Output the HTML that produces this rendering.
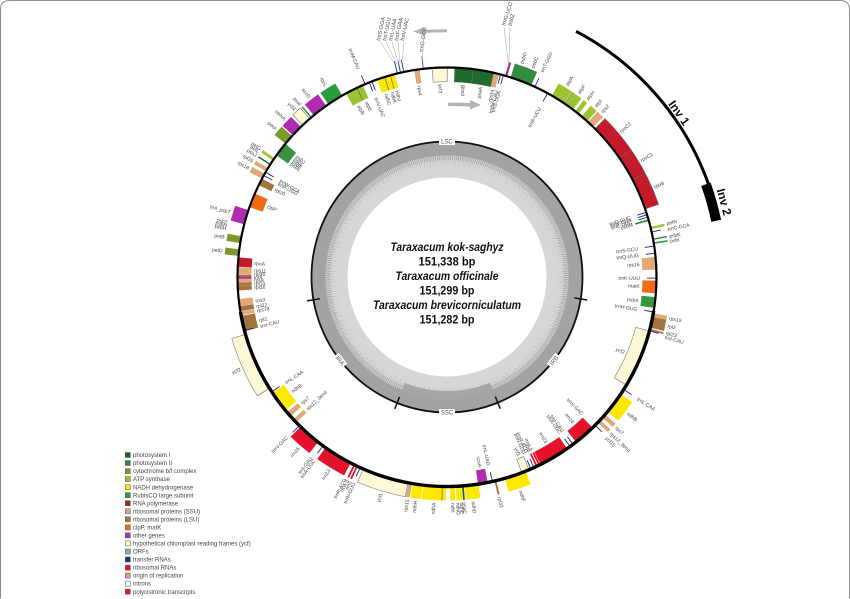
<!DOCTYPE html>
<html><head><meta charset="utf-8"><style>
html,body{margin:0;padding:0;background:#fff;overflow:hidden;width:850px;height:599px;}
svg{display:block;}
text{font-family:"Liberation Sans",Arial,sans-serif;}
</style></head><body>
<svg width="850" height="599" viewBox="0 0 850 599" xmlns="http://www.w3.org/2000/svg" overflow="hidden">
<path d="M0.5,598.5 L0.5,9.5 Q0.5,0.5 9.5,0.5 L840.5,0.5 Q849.5,0.5 849.5,9.5 L849.5,598.5" fill="none" stroke="#8a8a8a" stroke-width="1"/>

<!-- gray arrows -->
<path d="M447,29.3 L425,29.8 L425,27 L413,31.5 L425,35.5 L425,32.8 L447,32.3 Z" fill="#b4b4b4"/>
<path d="M448,102.5 L470,103 L470,100 L481,105 L470,109.5 L470,106.5 L448,106 Z" fill="#b4b4b4"/>

<!-- Inv arcs -->
<path d="M576.0,31.3 A277.5,277.5 0 0 1 708.7,184.8" fill="none" stroke="#000" stroke-width="3"/>
<path d="M705.9,184.3 A275,275 0 0 1 716.2,220.8" fill="none" stroke="#000" stroke-width="10"/>

<g transform="translate(447,277)">
 <!-- inner GC ring -->
 <circle r="117.5" fill="none" stroke="#d6d6d6" stroke-width="36"/>
 <circle r="128.5" fill="none" stroke="#a3a3a3" stroke-width="14"/>
 <circle r="119.5" fill="none" stroke="#a9a9a9" stroke-width="5" stroke-dasharray="1 0.9"/>
 <circle r="116" fill="none" stroke="#b3b3b3" stroke-width="3" stroke-dasharray="0.6 2.2"/>
 <circle r="113" fill="none" stroke="#bdbdbd" stroke-width="3" stroke-dasharray="0.5 4.5"/>
 <circle r="118" fill="none" stroke="#a6a6a6" stroke-width="8" transform="rotate(68)" stroke-dasharray="90 3000"/>
 <circle r="135.5" fill="none" stroke="#111" stroke-width="1.8"/>
 <g stroke="#111" stroke-width="1.5">
  <line y1="-129" y2="-142" transform="rotate(99.3)"/>
  <line y1="-129" y2="-142" transform="rotate(158)"/>
  <line y1="-129" y2="-142" transform="rotate(201.6)"/>
  <line y1="-129" y2="-142" transform="rotate(260.3)"/>
 </g>
 <g font-size="6" fill="#555" text-anchor="middle">
  <rect x="-8" y="-139" width="16" height="7" fill="#fff"/>
  <text x="0" y="-133.3">LSC</text>
  <g transform="translate(0,135.5)"><rect x="-8" y="-3.5" width="16" height="7" fill="#fff"/><text x="0" y="2.2">SSC</text></g>
  <g transform="rotate(232) translate(0,-135.5) rotate(180)"><rect x="-7" y="-3.5" width="14" height="7" fill="#fff"/><text x="0" y="2.2">IRA</text></g>
  <g transform="rotate(128) translate(0,-135.5) rotate(180)"><rect x="-7" y="-3.5" width="14" height="7" fill="#fff"/><text x="0" y="2.2">IRB</text></g>
 </g>

 <!-- center text -->
 <g fill="#111" font-weight="bold" text-anchor="middle">
  <text x="0" y="-26" font-size="11.5" font-style="italic" textLength="113" lengthAdjust="spacingAndGlyphs">Taraxacum kok-saghyz</text>
  <text x="0" y="-11.3" font-size="11.5" textLength="57" lengthAdjust="spacingAndGlyphs">151,338 bp</text>
  <text x="0" y="3.2" font-size="11.5" font-style="italic" textLength="103" lengthAdjust="spacingAndGlyphs">Taraxacum officinale</text>
  <text x="0" y="17.7" font-size="11.5" textLength="55" lengthAdjust="spacingAndGlyphs">151,299 bp</text>
  <text x="0" y="32.2" font-size="11.5" font-style="italic" textLength="148" lengthAdjust="spacingAndGlyphs">Taraxacum brevicorniculatum</text>
  <text x="0" y="46.7" font-size="11.5" textLength="55" lengthAdjust="spacingAndGlyphs">151,282 bp</text>
 </g>

 <!-- outlines for light boxes -->
 <g fill="none" stroke="#6a6a6a" stroke-width="15">
  <circle r="216.5" transform="rotate(100.65)" stroke-dasharray="49.1 3000"/>
  <circle r="216.5" transform="rotate(147.85)" stroke-dasharray="61.6 3000"/>
  <circle r="216.5" transform="rotate(226.35)" stroke-dasharray="10.5 3000"/>
  <circle r="216.5" transform="rotate(-72.35)" stroke-dasharray="23 3000"/>
  <circle r="216.5" transform="rotate(-45.15)" stroke-dasharray="99.3 3000"/>
  <circle r="202.5" transform="rotate(265.85)" stroke-dasharray="15.2 3000"/>
  <circle r="202.5" transform="rotate(14.85)" stroke-dasharray="57.6 3000"/>
  <circle r="202.5" transform="rotate(66.85)" stroke-dasharray="8.2 3000"/>
  <circle r="202.5" transform="rotate(-87.95)" stroke-dasharray="38.9 3000"/>
 </g>

 <!-- outside genes -->
 <g fill="none" stroke-width="14">
  <circle r="216.5" transform="rotate(-73.9)" stroke="#a52aa5" stroke-dasharray="2.3 3000"/>
  <circle r="216.5" transform="rotate(-72.2)" stroke="#2f8f3a" stroke-dasharray="21.9 3000"/>
  <circle r="216.5" transform="rotate(-60)" stroke="#9cc431" stroke-dasharray="15.1 3000"/>
  <circle r="216.5" transform="rotate(-55.7)" stroke="#9cc431" stroke-dasharray="10.2 3000"/>
  <circle r="216.5" transform="rotate(-52.3)" stroke="#9cc431" stroke-dasharray="4.5 3000"/>
  <circle r="216.5" transform="rotate(-50)" stroke="#9cc431" stroke-dasharray="7.6 3000"/>
  <circle r="216.5" transform="rotate(-47.7)" stroke="#e2a878" stroke-dasharray="7.6 3000"/>
  <circle r="216.5" transform="rotate(-45)" stroke="#c41a2c" stroke-dasharray="98.2 3000"/>
  <circle r="216.5" transform="rotate(-13.8)" stroke="#9cc431" stroke-dasharray="2.3 3000"/>
  <circle r="216.5" transform="rotate(-10.6)" stroke="#2f8f3a" stroke-dasharray="1.5 3000"/>
  <circle r="216.5" transform="rotate(-9.5)" stroke="#2f8f3a" stroke-dasharray="1.5 3000"/>
  <circle r="216.5" transform="rotate(10)" stroke="#e2a878" stroke-dasharray="3.8 3000"/>
  <circle r="216.5" transform="rotate(11)" stroke="#a27540" stroke-dasharray="11.3 3000"/>
  <circle r="216.5" transform="rotate(14.3)" stroke="#a27540" stroke-dasharray="1.9 3000"/>
  <circle r="216.5" transform="rotate(34)" stroke="#ffe800" stroke-dasharray="22.7 3000"/>
  <circle r="216.5" transform="rotate(41)" stroke="#e2a878" stroke-dasharray="4.5 3000"/>
  <circle r="216.5" transform="rotate(43)" stroke="#e2a878" stroke-dasharray="3.8 3000"/>
  <circle r="216.5" transform="rotate(68)" stroke="#ffe800" stroke-dasharray="22.7 3000"/>
  <circle r="216.5" transform="rotate(76.4)" stroke="#a27540" stroke-dasharray="1.9 3000"/>
  <circle r="216.5" transform="rotate(81.4)" stroke="#ffe800" stroke-dasharray="14.4 3000"/>
  <circle r="216.5" transform="rotate(85.4)" stroke="#1e6b2e" stroke-dasharray="1.9 3000"/>
  <circle r="216.5" transform="rotate(86)" stroke="#ffe800" stroke-dasharray="2.3 3000"/>
  <circle r="216.5" transform="rotate(86.7)" stroke="#ffe800" stroke-dasharray="3.4 3000"/>
  <circle r="216.5" transform="rotate(87.9)" stroke="#ffe800" stroke-dasharray="4.9 3000"/>
  <circle r="216.5" transform="rotate(90.3)" stroke="#ffe800" stroke-dasharray="23.4 3000"/>
  <circle r="216.5" transform="rotate(96.7)" stroke="#ffe800" stroke-dasharray="10.2 3000"/>
  <circle r="216.5" transform="rotate(99.6)" stroke="#e2a878" stroke-dasharray="3.8 3000"/>
  <circle r="216.5" transform="rotate(100.8)" stroke="#fdf8d6" stroke-dasharray="48 3000"/>
  <circle r="216.5" transform="rotate(115.2)" stroke="#e4132b" stroke-dasharray="1.8 3000"/>
  <circle r="216.5" transform="rotate(116)" stroke="#e4132b" stroke-dasharray="1.8 3000"/>
  <circle r="216.5" transform="rotate(117.4)" stroke="#e4132b" stroke-dasharray="30.6 3000"/>
  <circle r="216.5" transform="rotate(128)" stroke="#e4132b" stroke-dasharray="24.2 3000"/>
  <circle r="216.5" transform="rotate(148)" stroke="#fdf8d6" stroke-dasharray="60.5 3000"/>
  <circle r="216.5" transform="rotate(185.8)" stroke="#7b9a2a" stroke-dasharray="6.8 3000"/>
  <circle r="216.5" transform="rotate(189.3)" stroke="#7b9a2a" stroke-dasharray="7.2 3000"/>
  <circle r="216.5" transform="rotate(194.6)" stroke="#b12bb0" stroke-dasharray="15.1 3000"/>
  <circle r="216.5" transform="rotate(208)" stroke="#e2a878" stroke-dasharray="5.7 3000"/>
  <circle r="216.5" transform="rotate(210.3)" stroke="#e2a878" stroke-dasharray="3.8 3000"/>
  <circle r="216.5" transform="rotate(212.3)" stroke="#1e6b2e" stroke-dasharray="1.5 3000"/>
  <circle r="216.5" transform="rotate(213.8)" stroke="#a6c23a" stroke-dasharray="3 3000"/>
  <circle r="216.5" transform="rotate(219.5)" stroke="#7b9a2a" stroke-dasharray="10.6 3000"/>
  <circle r="216.5" transform="rotate(222.6)" stroke="#b12bb0" stroke-dasharray="12.1 3000"/>
  <circle r="216.5" transform="rotate(226.5)" stroke="#fdf8d6" stroke-dasharray="9.4 3000"/>
  <circle r="216.5" transform="rotate(229.4)" stroke="#2f8f3a" stroke-dasharray="1.5 3000"/>
  <circle r="216.5" transform="rotate(230.5)" stroke="#b12bb0" stroke-dasharray="16.2 3000"/>
  <circle r="216.5" transform="rotate(235.5)" stroke="#2a9c3c" stroke-dasharray="17 3000"/>
 </g>

 <!-- inside genes -->
 <g fill="none" stroke-width="14">
  <circle r="202.5" transform="rotate(266)" stroke="#fdf8d6" stroke-dasharray="14.1 3000"/>
  <circle r="202.5" transform="rotate(-87.8)" stroke="#1e6b2e" stroke-dasharray="37.8 3000"/>
  <circle r="202.5" transform="rotate(-77.1)" stroke="#e2a878" stroke-dasharray="5.3 3000"/>
  <circle r="202.5" transform="rotate(-16)" stroke="#2f8f3a" stroke-dasharray="1.8 3000"/>
  <circle r="202.5" transform="rotate(-5.5)" stroke="#e2a878" stroke-dasharray="12.4 3000"/>
  <circle r="202.5" transform="rotate(1)" stroke="#ef6b14" stroke-dasharray="12.4 3000"/>
  <circle r="202.5" transform="rotate(5.5)" stroke="#38963a" stroke-dasharray="10.6 3000"/>
  <circle r="202.5" transform="rotate(15)" stroke="#fdf8d6" stroke-dasharray="56.5 3000"/>
  <circle r="202.5" transform="rotate(46)" stroke="#e4132b" stroke-dasharray="21.2 3000"/>
  <circle r="202.5" transform="rotate(55)" stroke="#e4132b" stroke-dasharray="30 3000"/>
  <circle r="202.5" transform="rotate(63.6)" stroke="#e4132b" stroke-dasharray="1.8 3000"/>
  <circle r="202.5" transform="rotate(64.4)" stroke="#e4132b" stroke-dasharray="1.8 3000"/>
  <circle r="202.5" transform="rotate(67)" stroke="#fdf8d6" stroke-dasharray="7.1 3000"/>
  <circle r="202.5" transform="rotate(78.8)" stroke="#b12bb0" stroke-dasharray="9.5 3000"/>
  <circle r="202.5" transform="rotate(136)" stroke="#e2a878" stroke-dasharray="4.2 3000"/>
  <circle r="202.5" transform="rotate(138.3)" stroke="#e2a878" stroke-dasharray="5.3 3000"/>
  <circle r="202.5" transform="rotate(140.5)" stroke="#ffe800" stroke-dasharray="21.2 3000"/>
  <circle r="202.5" transform="rotate(165)" stroke="#a27540" stroke-dasharray="15.2 3000"/>
  <circle r="202.5" transform="rotate(169.5)" stroke="#e2a878" stroke-dasharray="3.5 3000"/>
  <circle r="202.5" transform="rotate(170.6)" stroke="#a27540" stroke-dasharray="4.9 3000"/>
  <circle r="202.5" transform="rotate(172)" stroke="#e2a878" stroke-dasharray="7.1 3000"/>
  <circle r="202.5" transform="rotate(176.3)" stroke="#a27540" stroke-dasharray="4.6 3000"/>
  <circle r="202.5" transform="rotate(177.6)" stroke="#a27540" stroke-dasharray="3.2 3000"/>
  <circle r="202.5" transform="rotate(178.5)" stroke="#e2a878" stroke-dasharray="3.5 3000"/>
  <circle r="202.5" transform="rotate(179.5)" stroke="#b12bb0" stroke-dasharray="1.8 3000"/>
  <circle r="202.5" transform="rotate(180)" stroke="#a27540" stroke-dasharray="2.1 3000"/>
  <circle r="202.5" transform="rotate(180.6)" stroke="#e2a878" stroke-dasharray="7.4 3000"/>
  <circle r="202.5" transform="rotate(182.8)" stroke="#c41a2c" stroke-dasharray="9.2 3000"/>
  <circle r="202.5" transform="rotate(199.5)" stroke="#ef6b14" stroke-dasharray="14.1 3000"/>
  <circle r="202.5" transform="rotate(206)" stroke="#a27540" stroke-dasharray="7.1 3000"/>
  <circle r="202.5" transform="rotate(215.5)" stroke="#38963a" stroke-dasharray="14.1 3000"/>
  <circle r="202.5" transform="rotate(241.2)" stroke="#9cc431" stroke-dasharray="11.7 3000"/>
  <circle r="202.5" transform="rotate(244.5)" stroke="#9cc431" stroke-dasharray="6.4 3000"/>
  <circle r="202.5" transform="rotate(250.5)" stroke="#ffe800" stroke-dasharray="7.8 3000"/>
  <circle r="202.5" transform="rotate(252.7)" stroke="#ffe800" stroke-dasharray="5.7 3000"/>
  <circle r="202.5" transform="rotate(254.3)" stroke="#ffe800" stroke-dasharray="4.6 3000"/>
  <circle r="202.5" transform="rotate(261)" stroke="#e2a878" stroke-dasharray="5.3 3000"/>
 </g>

 <!-- dividers -->
 <g stroke="#666" stroke-width="0.7">
  <line y1="-209.5" y2="-223.5" transform="rotate(20.7)"/>
  <line y1="-209.5" y2="-223.5" transform="rotate(55.4)"/>
  <line y1="-209.5" y2="-223.5" transform="rotate(62.4)"/>
  <line y1="-209.5" y2="-223.5" transform="rotate(181.3)"/>
  <line y1="-209.5" y2="-223.5" transform="rotate(34.2)"/>
  <line y1="-195.5" y2="-209.5" transform="rotate(7.2)"/>
  <line y1="-195.5" y2="-209.5" transform="rotate(334.5)"/>
  <line y1="-195.5" y2="-209.5" transform="rotate(342.7)"/>
  <line y1="-195.5" y2="-209.5" transform="rotate(344.3)"/>
  <line y1="-195.5" y2="-209.5" transform="rotate(307.5)"/>
 </g>

 <!-- tRNA ticks -->
 <g stroke="#1c2a88" stroke-width="0.9">
  <line y1="-210.6" y2="-219" transform="rotate(24.8)"/>
  <line y1="-210.6" y2="-219" transform="rotate(77.6)"/>
  <line y1="-210.6" y2="-219" transform="rotate(104.9)"/>
  <line y1="-210.6" y2="-219" transform="rotate(122.5)"/>
  <line y1="-210.6" y2="-219" transform="rotate(135)"/>
  <line y1="-210.6" y2="-219" transform="rotate(204.5)"/>
  <line y1="-210.6" y2="-219" transform="rotate(216.3)"/>
  <line y1="-210.6" y2="-219" transform="rotate(224.8)"/>
  <line y1="-210.6" y2="-219" transform="rotate(337)"/>
  <line y1="-210.6" y2="-222" transform="rotate(346.3)"/>
  <line y1="-210.6" y2="-222" transform="rotate(347.2)"/>
  <line y1="-210.6" y2="-222" transform="rotate(348.1)"/>
  <line y1="-210.6" y2="-222" transform="rotate(353.5)" stroke="#8a2a9a"/>
  <line y1="-208.4" y2="-200" transform="rotate(14.8)"/>
  <line y1="-208.4" y2="-200" transform="rotate(15.6)"/>
  <line y1="-208.4" y2="-200" transform="rotate(28.7)"/>
  <line y1="-208.4" y2="-200" transform="rotate(72)"/>
  <line y1="-208.4" y2="-200" transform="rotate(72.7)"/>
  <line y1="-208.4" y2="-200" transform="rotate(73.4)"/>
  <line y1="-208.4" y2="-200" transform="rotate(81.5)"/>
  <line y1="-208.4" y2="-200" transform="rotate(83.5)"/>
  <line y1="-208.4" y2="-200" transform="rotate(90.3)"/>
  <line y1="-208.4" y2="-200" transform="rotate(99.6)"/>
  <line y1="-208.4" y2="-200" transform="rotate(143)"/>
  <line y1="-208.4" y2="-200" transform="rotate(144)"/>
  <line y1="-208.4" y2="-200" transform="rotate(155.5)"/>
  <line y1="-208.4" y2="-200" transform="rotate(156.4)"/>
  <line y1="-208.4" y2="-200" transform="rotate(167.5)"/>
  <line y1="-208.4" y2="-200" transform="rotate(236.8)"/>
  <line y1="-208.4" y2="-200" transform="rotate(255.2)"/>
  <line y1="-208.4" y2="-200" transform="rotate(299)"/>
  <line y1="-208.4" y2="-200" transform="rotate(300)"/>
  <line y1="-208.4" y2="-200" transform="rotate(338.2)"/>
  <line y1="-208.4" y2="-200" transform="rotate(339)"/>
 </g>

 <!-- main circle -->
 <circle r="209.5" fill="none" stroke="#000" stroke-width="2.2"/>
 <circle r="209.5" fill="none" stroke="#000" stroke-width="3.4" transform="rotate(9.3)" stroke-dasharray="588.7 3000"/>

 <!-- labels -->
 <g font-size="5" fill="#444">
  <g>
   <text transform="rotate(-70.8)" x="226" y="1.8">psbD</text>
   <text transform="rotate(-67.8)" x="226" y="1.8">psbC</text>
   <text transform="rotate(-65.2)" x="226" y="1.8">trnT-GGU</text>
   <text transform="rotate(-58)" x="226" y="1.8">atpA</text>
   <text transform="rotate(-54.4)" x="226" y="1.8">atpF</text>
   <text transform="rotate(-51.7)" x="226" y="1.8">atpH</text>
   <text transform="rotate(-49)" x="226" y="1.8">atpI</text>
   <text transform="rotate(-46.8)" x="226" y="1.8">rps2</text>
   <text transform="rotate(-40)" x="226" y="1.8">rpoC2</text>
   <text transform="rotate(-31)" x="226" y="1.8">rpoC1</text>
   <text transform="rotate(-23.5)" x="226" y="1.8">rpoB</text>
   <text transform="rotate(-13.7)" x="226" y="1.8">petN</text>
   <text transform="rotate(-12.2)" x="226" y="1.8">trnC-GCA</text>
   <text transform="rotate(-10.4)" x="226" y="1.8">psbK</text>
   <text transform="rotate(-9.2)" x="226" y="1.8">psbI</text>
   <text transform="rotate(10.5)" x="226" y="1.8">rps19</text>
   <text transform="rotate(12.5)" x="226" y="1.8">rpl2</text>
   <text transform="rotate(14.3)" x="226" y="1.8">rpl23</text>
   <text transform="rotate(15.4)" x="226" y="1.8">trnI-CAU</text>
   <text transform="rotate(32.5)" x="226" y="1.8">trnL-CAA</text>
   <text transform="rotate(37)" x="226" y="1.8">ndhB</text>
   <text transform="rotate(41.6)" x="226" y="1.8">rps7</text>
   <text transform="rotate(43.6)" x="226" y="1.8">rps12_3end</text>
   <text transform="rotate(45.2)" x="226" y="1.8">ycf15</text>
   <text transform="rotate(71)" x="226" y="1.8">ndhF</text>
   <text transform="rotate(76.6)" x="226" y="1.8">rpl32</text>
   <text transform="rotate(83.3)" x="226" y="1.8">ndhD</text>
   <text transform="rotate(85.6)" x="226" y="1.8">psaC</text>
   <text transform="rotate(86.3)" x="226" y="1.8">ndhE</text>
   <text transform="rotate(87.2)" x="226" y="1.8">ndhG</text>
   <text transform="rotate(88.5)" x="226" y="1.8">ndhI</text>
  </g>
  <g text-anchor="end">
   <text transform="rotate(-86.6)" x="-226" y="1.8">ndhA</text>
   <text transform="rotate(-82)" x="-226" y="1.8">ndhH</text>
   <text transform="rotate(-79.9)" x="-226" y="1.8">rps15</text>
   <text transform="rotate(-73)" x="-226" y="1.8">ycf1</text>
   <text transform="rotate(-65.7)" x="-226" y="1.8">trnN-GUU</text>
   <text transform="rotate(-64.7)" x="-226" y="1.8">rrn5</text>
   <text transform="rotate(-63.8)" x="-226" y="1.8">rrn4.5</text>
   <text transform="rotate(-63.1)" x="-226" y="1.8">trnR-ACG</text>
   <text transform="rotate(-58.5)" x="-226" y="1.8">rrn23</text>
   <text transform="rotate(-54)" x="-226" y="1.8">trnA-UGC</text>
   <text transform="rotate(-53)" x="-226" y="1.8">trnI-GAU</text>
   <text transform="rotate(-49)" x="-226" y="1.8">rrn16</text>
   <text transform="rotate(-45)" x="-226" y="1.8">trnV-GAC</text>
   <text transform="rotate(-24)" x="-226" y="1.8">ycf2</text>
   <text transform="rotate(6.7)" x="-226" y="1.8">petD</text>
   <text transform="rotate(10.2)" x="-226" y="1.8">petB</text>
   <text transform="rotate(12.4)" x="-226" y="1.8">psbH</text>
   <text transform="rotate(13.2)" x="-226" y="1.8">psbN</text>
   <text transform="rotate(14)" x="-226" y="1.8">psbT</text>
   <text transform="rotate(16.6)" x="-226" y="1.8">trnI_psbT</text>
   <text transform="rotate(28.8)" x="-226" y="1.8">rps18</text>
   <text transform="rotate(30.8)" x="-226" y="1.8">rpl33</text>
   <text transform="rotate(32.5)" x="-226" y="1.8">psaJ</text>
   <text transform="rotate(33.7)" x="-226" y="1.8">petL</text>
   <text transform="rotate(34.5)" x="-226" y="1.8">petG</text>
   <text transform="rotate(40.9)" x="-226" y="1.8">petA</text>
   <text transform="rotate(44.2)" x="-226" y="1.8">cemA</text>
   <text transform="rotate(47.7)" x="-226" y="1.8">ycf4</text>
   <text transform="rotate(49.6)" x="-226" y="1.8">psaI</text>
   <text transform="rotate(52.6)" x="-226" y="1.8">accD</text>
   <text transform="rotate(57.7)" x="-226" y="1.8">rbcL</text>
   <text transform="rotate(67)" x="-226" y="1.8">trnM-CAU</text>
  </g>
  <g text-anchor="end">
   <text transform="rotate(-85.3)" x="193" y="1.8">psaB</text>
   <text transform="rotate(-80)" x="193" y="1.8">psaA</text>
   <text transform="rotate(-76.4)" x="193" y="1.8">rps14</text>
   <text transform="rotate(-75.2)" x="193" y="1.8">trnfM-CAU</text>
   <text transform="rotate(-74.4)" x="193" y="1.8">trnS-UGA</text>
   <text transform="rotate(-61.3)" x="193" y="1.8">trnR-UCU</text>
   <text transform="rotate(-18)" x="193" y="1.8">trnD-GUC</text>
   <text transform="rotate(-17.3)" x="193" y="1.8">trnY-GUA</text>
   <text transform="rotate(-16.6)" x="193" y="1.8">trnE-UUC</text>
   <text transform="rotate(-15.8)" x="193" y="1.8">psbM</text>
   <text transform="rotate(-8.5)" x="193" y="1.8">trnS-GCU</text>
   <text transform="rotate(-6.5)" x="193" y="1.8">trnQ-UUG</text>
   <text transform="rotate(-3.8)" x="193" y="1.8">rps16</text>
   <text transform="rotate(0.3)" x="193" y="1.8">trnK-UUU</text>
   <text transform="rotate(2.7)" x="193" y="1.8">matK</text>
   <text transform="rotate(7)" x="193" y="1.8">psbA</text>
   <text transform="rotate(9.6)" x="193" y="1.8">trnH-GUG</text>
   <text transform="rotate(23)" x="193" y="1.8">ycf2</text>
   <text transform="rotate(45.3)" x="193" y="1.8">trnV-GAC</text>
   <text transform="rotate(49)" x="193" y="1.8">rrn16</text>
   <text transform="rotate(53)" x="193" y="1.8">trnI-GAU</text>
   <text transform="rotate(54)" x="193" y="1.8">trnA-UGC</text>
   <text transform="rotate(59)" x="193" y="1.8">rrn23</text>
   <text transform="rotate(63.9)" x="193" y="1.8">rrn4.5</text>
   <text transform="rotate(64.7)" x="193" y="1.8">rrn5</text>
   <text transform="rotate(65.5)" x="193" y="1.8">trnR-ACG</text>
   <text transform="rotate(66.4)" x="193" y="1.8">trnN-GUU</text>
   <text transform="rotate(68)" x="193" y="1.8">ycf1</text>
   <text transform="rotate(77.5)" x="193" y="1.8">trnL-UAG</text>
   <text transform="rotate(80.1)" x="193" y="1.8">ccsA</text>
  </g>
  <g>
   <text transform="rotate(-43.4)" x="-193" y="1.8">rps12_3end</text>
   <text transform="rotate(-41)" x="-193" y="1.8">rps7</text>
   <text transform="rotate(-36.5)" x="-193" y="1.8">ndhB</text>
   <text transform="rotate(-33.2)" x="-193" y="1.8">trnL-CAA</text>
   <text transform="rotate(-14.8)" x="-193" y="1.8">trnI-CAU</text>
   <text transform="rotate(-13)" x="-193" y="1.8">rpl2</text>
   <text transform="rotate(-10)" x="-193" y="1.8">rps19</text>
   <text transform="rotate(-8.7)" x="-193" y="1.8">rpl22</text>
   <text transform="rotate(-7)" x="-193" y="1.8">rps3</text>
   <text transform="rotate(-3.1)" x="-193" y="1.8">rpl16</text>
   <text transform="rotate(-2)" x="-193" y="1.8">rpl14</text>
   <text transform="rotate(-1)" x="-193" y="1.8">rps8</text>
   <text transform="rotate(-0.1)" x="-193" y="1.8">infA</text>
   <text transform="rotate(0.9)" x="-193" y="1.8">rpl36</text>
   <text transform="rotate(2)" x="-193" y="1.8">rps11</text>
   <text transform="rotate(4.1)" x="-193" y="1.8">rpoA</text>
   <text transform="rotate(21.5)" x="-193" y="1.8">clpP</text>
   <text transform="rotate(27)" x="-193" y="1.8">rpl20</text>
   <text transform="rotate(29)" x="-193" y="1.8">trnP-UGG</text>
   <text transform="rotate(30)" x="-193" y="1.8">trnW-CCA</text>
   <text transform="rotate(36)" x="-193" y="1.8">psbE</text>
   <text transform="rotate(36.9)" x="-193" y="1.8">psbF</text>
   <text transform="rotate(37.8)" x="-193" y="1.8">psbL</text>
   <text transform="rotate(38.8)" x="-193" y="1.8">psbJ</text>
   <text transform="rotate(62.8)" x="-193" y="1.8">atpB</text>
   <text transform="rotate(65.4)" x="-193" y="1.8">atpE</text>
   <text transform="rotate(68.4)" x="-193" y="1.8">trnV-UAC</text>
   <text transform="rotate(71.6)" x="-193" y="1.8">ndhC</text>
   <text transform="rotate(73.5)" x="-193" y="1.8">ndhK</text>
   <text transform="rotate(75)" x="-193" y="1.8">ndhJ</text>
   <text transform="rotate(81.7)" x="-193" y="1.8">rps4</text>
   <text transform="rotate(88)" x="-193" y="1.8">ycf3</text>
  </g>
 </g>
</g>

<!-- top leader lines and labels -->
<g stroke="#999" stroke-width="0.45" fill="none">
 <line x1="380" y1="42" x2="395.1" y2="64.2"/>
 <line x1="386" y1="42" x2="396.6" y2="64"/>
 <line x1="392" y1="42" x2="398.5" y2="63.5"/>
 <line x1="398" y1="42" x2="400" y2="63.2"/>
 <line x1="404" y1="42" x2="401.8" y2="62.7"/>
 <line x1="422.3" y1="53" x2="422.3" y2="59.5"/>
 <line x1="504" y1="27" x2="508.8" y2="67"/>
 <line x1="510" y1="27" x2="508.8" y2="67"/>
</g>
<g font-size="5.5" fill="#444">
 <text transform="translate(380,41) rotate(-78)">trnS-GGA</text>
 <text transform="translate(386,41) rotate(-78)">trnT-UGU</text>
 <text transform="translate(392,41) rotate(-78)">trnL-UAA</text>
 <text transform="translate(398,41) rotate(-78)">trnF-GAA</text>
 <text transform="translate(404,41) rotate(-78)">trnV-UAC</text>
 <text transform="translate(423,52) rotate(-82)">trnG-GCC</text>
 <text transform="translate(505,26) rotate(-72)">trnG-UCC</text>
 <text transform="translate(511,26) rotate(-72)">psbZ</text>
</g>

<!-- Inv labels -->
<text transform="translate(679,113) rotate(55)" x="0" y="4" text-anchor="middle" font-size="12" font-weight="bold" fill="#111">Inv 1</text>
<text transform="translate(724,202) rotate(75)" x="0" y="4" text-anchor="middle" font-size="12" font-weight="bold" fill="#111">Inv 2</text>

<!-- legend -->
<g stroke="#555" stroke-width="0.5">
 <rect x="125.3" y="452.5" width="5" height="5" fill="#1a5e2a"/>
 <rect x="125.3" y="460.5" width="5" height="5" fill="#2e8b3a"/>
 <rect x="125.3" y="468.6" width="5" height="5" fill="#7b9a2a"/>
 <rect x="125.3" y="476.6" width="5" height="5" fill="#9cc431"/>
 <rect x="125.3" y="484.7" width="5" height="5" fill="#ffe800"/>
 <rect x="125.3" y="492.7" width="5" height="5" fill="#2a9c3c"/>
 <rect x="125.3" y="500.7" width="5" height="5" fill="#b01a28"/>
 <rect x="125.3" y="508.8" width="5" height="5" fill="#e2a878"/>
 <rect x="125.3" y="516.8" width="5" height="5" fill="#a27540"/>
 <rect x="125.3" y="524.9" width="5" height="5" fill="#ef6b14"/>
 <rect x="125.3" y="532.9" width="5" height="5" fill="#b12bb0"/>
 <rect x="125.3" y="540.9" width="5" height="5" fill="#fdf8d6"/>
 <rect x="125.3" y="549" width="5" height="5" fill="#7fb59d"/>
 <rect x="125.3" y="557" width="5" height="5" fill="#1c2a88"/>
 <rect x="125.3" y="565.1" width="5" height="5" fill="#e4132b"/>
 <rect x="125.3" y="573.1" width="5" height="5" fill="#f29090"/>
 <rect x="125.3" y="581.1" width="5" height="5" fill="#ffffff"/>
 <rect x="125.3" y="589.2" width="5" height="5" fill="#e4132b"/>
</g>
<g font-size="6" fill="#444">
 <text x="133" y="457.1">photosystem I</text>
 <text x="133" y="465.1">photosystem II</text>
 <text x="133" y="473.2">cytochrome b/f complex</text>
 <text x="133" y="481.2">ATP synthase</text>
 <text x="133" y="489.3">NADH dehydrogenase</text>
 <text x="133" y="497.3">RubisCO large subunit</text>
 <text x="133" y="505.3">RNA polymerase</text>
 <text x="133" y="513.4">ribosomal proteins (SSU)</text>
 <text x="133" y="521.4">ribosomal proteins (LSU)</text>
 <text x="133" y="529.5">clpP, matK</text>
 <text x="133" y="537.5">other genes</text>
 <text x="133" y="545.5">hypothetical chloroplast reading frames (ycf)</text>
 <text x="133" y="553.6">ORFs</text>
 <text x="133" y="561.6">transfer RNAs</text>
 <text x="133" y="569.7">ribosomal RNAs</text>
 <text x="133" y="577.7">origin of replication</text>
 <text x="133" y="585.7">introns</text>
 <text x="133" y="593.8">polycistronic transcripts</text>
</g>
</svg>
</body></html>
